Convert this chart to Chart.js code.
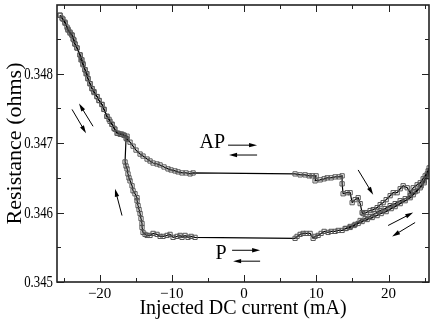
<!DOCTYPE html>
<html lang="en">
<head>
<meta charset="UTF-8">
<title>Resistance vs injected DC current</title>
<script src="https://cdn.jsdelivr.net/npm/chart.js@4"></script>
<style>
  body { margin: 0; background: #fff; }
</style>
</head>
<body>
<canvas id="loop" width="436" height="326"></canvas>
<script>
// sweep from -25 mA upwards (AP branch, switches to P near +16 mA)
const upCurrent = [-25.48, -25.21, -24.79, -24.52, -24.38, -24.10, -23.82, -23.55, -23.41, -23.13,
  -22.71, -22.44, -22.30, -22.02, -21.75, -21.61, -21.33, -21.05, -20.78, -20.36,
  -20.08, -19.67, -19.39, -18.98, -18.70, -18.28, -18.01, -17.59, -17.17, -16.90,
  -16.62, -16.20, -16.20, -15.79, -15.37, -14.96, -14.40, -13.99, -13.43, -13.02,
  -12.60, -12.05, -11.63, -11.08, -10.53, -10.11, -9.56, -9.14, -8.59, -8.03,
  -7.48, -7.06, 7.06, 7.76, 8.45, 9.00, 9.42, 9.97, 9.83, 10.53,
  11.08, 11.50, 12.05, 12.60, 13.16, 13.57, 13.57, 13.71, 14.27, 14.68,
  14.96, 15.37, 15.79, 16.07, 16.34, 16.48, 16.90, 17.45, 17.87, 18.42,
  18.84, 19.25, 19.67, 20.22, 20.64, 21.19, 21.61, 22.02, 22.58, 22.99,
  23.41, 23.96, 24.38, 24.79, 25.07, 25.48];
const upRes = [0.348843, 0.348800, 0.348743, 0.348671, 0.348629, 0.348586, 0.348557, 0.348486, 0.348429, 0.348371,
  0.348271, 0.348200, 0.348143, 0.348057, 0.348000, 0.347929, 0.347857, 0.347786, 0.347743, 0.347671,
  0.347614, 0.347557, 0.347486, 0.347386, 0.347343, 0.347271, 0.347214, 0.347143, 0.347129, 0.347129,
  0.347114, 0.347100, 0.347057, 0.347014, 0.346957, 0.346900, 0.346843, 0.346814, 0.346771, 0.346743,
  0.346714, 0.346700, 0.346686, 0.346657, 0.346629, 0.346614, 0.346600, 0.346586, 0.346571, 0.346571,
  0.346557, 0.346571, 0.346557, 0.346543, 0.346543, 0.346529, 0.346529, 0.346529, 0.346457, 0.346471,
  0.346486, 0.346500, 0.346500, 0.346514, 0.346514, 0.346529, 0.346414, 0.346271, 0.346286, 0.346286,
  0.346143, 0.346186, 0.346214, 0.346129, 0.346000, 0.345986, 0.346000, 0.346029, 0.346043, 0.346071,
  0.346114, 0.346143, 0.346186, 0.346243, 0.346286, 0.346286, 0.346343, 0.346386, 0.346357, 0.346286,
  0.346357, 0.346400, 0.346429, 0.346486, 0.346529, 0.346600];

// sweep back from +25 mA (P branch, switches to AP near -16 mA)
const downCurrent = [25.62, 25.35, 24.93, 24.52, 23.96, 23.41, 22.99, 22.30, 21.61, 20.91,
  20.36, 19.67, 18.98, 18.42, 17.73, 17.04, 16.34, 15.79, 15.24, 14.68,
  14.13, 13.57, 13.02, 12.60, 12.05, 11.63, 11.08, 10.66, 10.25, 9.83,
  9.56, 9.14, 8.59, 8.17, 7.76, 7.34, 7.06, -6.79, -7.34, -7.76,
  -8.17, -8.59, -8.86, -9.28, -9.83, -10.25, -10.66, -11.22, -11.63, -12.05,
  -12.60, -13.02, -13.43, -13.71, -13.99, -14.13, -14.13, -14.27, -14.40, -14.54,
  -14.68, -14.82, -14.82, -15.10, -15.37, -15.51, -15.79, -15.93, -16.07, -16.20,
  -16.34, -16.48, -16.34, -16.62, -17.04, -17.45, -17.87, -18.28, -18.56, -18.98,
  -19.39, -19.67, -20.08, -20.36, -20.78, -21.05, -21.33, -21.61, -21.88, -22.02,
  -22.30, -22.58, -22.71, -23.13, -23.41, -23.68, -23.82, -24.10, -24.38, -24.79,
  -25.07, -25.48];
const downRes = [0.346643, 0.346557, 0.346457, 0.346386, 0.346314, 0.346257, 0.346214, 0.346171, 0.346129, 0.346086,
  0.346057, 0.346014, 0.345986, 0.345957, 0.345929, 0.345900, 0.345871, 0.345843, 0.345814, 0.345786,
  0.345771, 0.345743, 0.345743, 0.345729, 0.345729, 0.345714, 0.345729, 0.345700, 0.345671, 0.345657,
  0.345629, 0.345700, 0.345700, 0.345700, 0.345686, 0.345657, 0.345629, 0.345643, 0.345657, 0.345643,
  0.345671, 0.345643, 0.345671, 0.345657, 0.345643, 0.345686, 0.345671, 0.345657, 0.345657, 0.345686,
  0.345700, 0.345671, 0.345671, 0.345686, 0.345714, 0.345786, 0.345843, 0.345914, 0.345986, 0.346043,
  0.346100, 0.346171, 0.346214, 0.346271, 0.346314, 0.346386, 0.346457, 0.346500, 0.346557, 0.346629,
  0.346671, 0.346729, 0.347071, 0.347114, 0.347129, 0.347143, 0.347200, 0.347271, 0.347314, 0.347386,
  0.347486, 0.347557, 0.347614, 0.347671, 0.347729, 0.347786, 0.347857, 0.347929, 0.348000, 0.348057,
  0.348129, 0.348200, 0.348271, 0.348371, 0.348429, 0.348500, 0.348557, 0.348600, 0.348643, 0.348729,
  0.348786, 0.348843];

// second trace on the P side at positive current
const rightCurrent = [13.99, 14.68, 15.37, 16.07, 16.76, 17.45, 18.14, 18.84, 19.53, 20.22,
  20.91, 21.61, 22.30, 22.99, 23.68, 24.38, 24.93, 25.35, 25.62];
const rightRes = [0.345771, 0.345800, 0.345829, 0.345886, 0.345914, 0.345943, 0.345986, 0.346029, 0.346057, 0.346100,
  0.346129, 0.346171, 0.346200, 0.346243, 0.346300, 0.346357, 0.346429, 0.346514, 0.346600];

const xTickLabels = [-20, -10, 0, 10, 20];
const yTickLabels = [0.345, 0.346, 0.347, 0.348];

// state labels and sweep-direction arrows, in data units
const stateLabels = [
  { text: 'AP', x: -4.4, y: 0.34701 },
  { text: 'P', x: -3.2, y: 0.34541 }
];
const arrows = [
  [-20.91, 0.347243, -22.85, 0.347571],
  [-23.82, 0.347486, -21.88, 0.347143],
  [-16.90, 0.345957, -17.87, 0.346343],
  [-2.22, 0.346971, 1.80, 0.346971],
  [1.80, 0.346829, -2.08, 0.346829],
  [-1.66, 0.345457, 2.22, 0.345457],
  [2.22, 0.345300, -1.52, 0.345300],
  [15.79, 0.346614, 17.87, 0.346257],
  [19.94, 0.345814, 23.41, 0.346000],
  [23.68, 0.345857, 20.50, 0.345657]
];

const pts = (xs, ys) => xs.map((x, i) => ({ x: x, y: ys[i] }));
const near = (list, v) => list.some(t => Math.abs(t - v) < 1e-7);
const serif = "'Liberation Serif', 'Times New Roman', serif";

const series = (data) => ({
  data: data,
  showLine: true,
  borderColor: '#000',
  borderWidth: 1.2,
  pointStyle: 'rect',
  pointRadius: 3,
  pointBorderWidth: 1,
  pointBorderColor: '#555',
  pointBackgroundColor: 'rgba(255,255,255,0)',
  tension: 0
});

const decorations = {
  id: 'decorations',
  afterDraw(chart) {
    const { ctx, chartArea: a, scales: { x, y } } = chart;
    ctx.save();
    // inward ticks on all four sides
    ctx.strokeStyle = '#222';
    ctx.lineWidth = 1;
    ctx.beginPath();
    x.ticks.forEach(t => {
      const px = Math.round(x.getPixelForValue(t.value)) + 0.5;
      const len = near(xTickLabels, t.value) ? 7 : 4;
      ctx.moveTo(px, a.bottom); ctx.lineTo(px, a.bottom - len);
      ctx.moveTo(px, a.top); ctx.lineTo(px, a.top + len);
    });
    y.ticks.forEach(t => {
      const py = Math.round(y.getPixelForValue(t.value)) + 0.5;
      const len = near(yTickLabels, t.value) ? 7 : 4;
      ctx.moveTo(a.left, py); ctx.lineTo(a.left + len, py);
      ctx.moveTo(a.right, py); ctx.lineTo(a.right - len, py);
    });
    ctx.stroke();
    ctx.lineWidth = 1.6;
    ctx.strokeRect(a.left, a.top, a.right - a.left, a.bottom - a.top);

    // y tick labels: the original uses a narrow serif, so squeeze horizontally
    ctx.fillStyle = '#000';
    ctx.font = '16px ' + serif;
    ctx.textAlign = 'right';
    ctx.textBaseline = 'middle';
    y.ticks.forEach(t => {
      if (!near(yTickLabels, t.value)) return;
      ctx.save();
      ctx.translate(a.left - 4, y.getPixelForValue(t.value) + 1);
      ctx.scale(0.8, 1);
      ctx.fillText(t.value.toFixed(3), 0, 0);
      ctx.restore();
    });

    // arrows
    ctx.strokeStyle = '#000';
    ctx.lineWidth = 1;
    arrows.forEach(([x1, y1, x2, y2]) => {
      const ax = x.getPixelForValue(x1), ay = y.getPixelForValue(y1);
      const bx = x.getPixelForValue(x2), by = y.getPixelForValue(y2);
      const ang = Math.atan2(by - ay, bx - ax);
      ctx.beginPath();
      ctx.moveTo(ax, ay);
      ctx.lineTo(bx - 5 * Math.cos(ang), by - 5 * Math.sin(ang));
      ctx.stroke();
      ctx.beginPath();
      ctx.moveTo(bx, by);
      ctx.lineTo(bx - 8 * Math.cos(ang) + 2.2 * Math.sin(ang), by - 8 * Math.sin(ang) - 2.2 * Math.cos(ang));
      ctx.lineTo(bx - 8 * Math.cos(ang) - 2.2 * Math.sin(ang), by - 8 * Math.sin(ang) + 2.2 * Math.cos(ang));
      ctx.closePath();
      ctx.fill();
    });

    // AP / P labels
    ctx.font = '20px ' + serif;
    ctx.textAlign = 'center';
    stateLabels.forEach(l => {
      ctx.fillText(l.text, x.getPixelForValue(l.x), y.getPixelForValue(l.y));
    });
    ctx.restore();
  }
};

new Chart(document.getElementById('loop'), {
  type: 'scatter',
  data: {
    datasets: [
      series(pts(upCurrent, upRes)),
      series(pts(downCurrent, downRes)),
      series(pts(rightCurrent, rightRes))
    ]
  },
  options: {
    responsive: false,
    animation: false,
    devicePixelRatio: 1,
    layout: { padding: { top: 3, right: 7, left: 0, bottom: 0 } },
    plugins: { legend: { display: false }, tooltip: { enabled: false } },
    scales: {
      x: {
        type: 'linear',
        min: -25.9,
        max: 25.6,
        afterFit(s) { s.height = 44; },
        grid: { display: false, drawTicks: false },
        border: { display: false },
        ticks: {
          stepSize: 5,
          includeBounds: false,
          padding: 3,
          color: '#000',
          maxRotation: 0,
          autoSkip: false,
          font: { family: serif, size: 15 },
          callback: v => near(xTickLabels, v) ? (v < 0 ? '\u2212' + Math.abs(v) : String(v)) : ''
        },
        title: {
          display: true,
          text: 'Injected DC current (mA)',
          color: '#000',
          font: { family: serif, size: 20 },
          padding: { top: 0, bottom: 5 }
        }
      },
      y: {
        type: 'linear',
        min: 0.345,
        max: 0.34899,
        afterFit(s) { s.width = 57; },
        grid: { display: false, drawTicks: false },
        border: { display: false },
        ticks: {
          display: false,
          stepSize: 0.0005,
          includeBounds: false,
          autoSkip: false
        },
        title: {
          display: true,
          text: 'Resistance (ohms)',
          color: '#000',
          font: { family: serif, size: 22 },
          padding: { top: 2, bottom: 0 }
        }
      }
    }
  },
  plugins: [decorations]
});
</script>
</body>
</html>
